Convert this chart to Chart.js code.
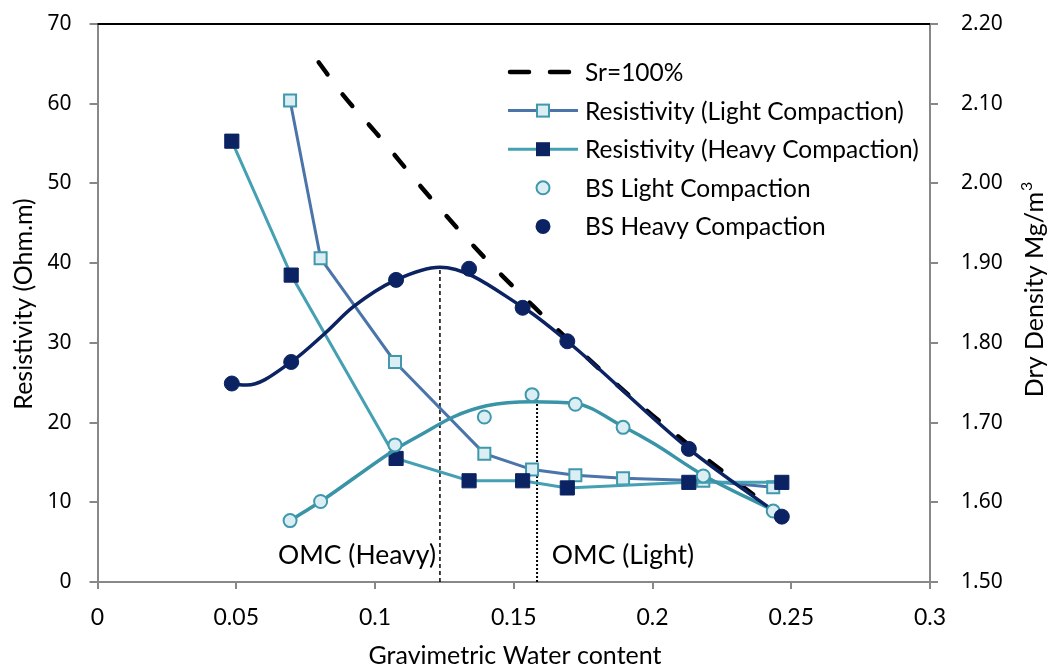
<!DOCTYPE html>
<html>
<head>
<meta charset="utf-8">
<script src="https://cdn.jsdelivr.net/npm/chart.js@4"></script>
<style>
  html, body { margin: 0; padding: 0; background: #fff; }
  #wrap { width: 1051px; height: 668px; }
</style>
</head>
<body>
<div id="wrap"><canvas id="c" width="1051" height="668"></canvas></div>
<script>
// ---- data ----
const xTickLabels = ['0', '0.05', '0.1', '0.15', '0.2', '0.25', '0.3'];
const leftTickLabels = ['0', '10', '20', '30', '40', '50', '60', '70'];
const rightTickLabels = ['1.50', '1.60', '1.70', '1.80', '1.90', '2.00', '2.10', '2.20'];

// Sr = 100% line (dry density)
const srX = [0.0797, 0.088, 0.10, 0.12, 0.14, 0.16, 0.18, 0.20, 0.22, 0.245];
const srY = [2.152, 2.113, 2.065, 1.982, 1.905, 1.836, 1.770, 1.709, 1.653, 1.587];

// resistivity (Ohm.m)
const resLightX = [0.0694, 0.0804, 0.1072, 0.1394, 0.1566, 0.1722, 0.1894, 0.2183, 0.2435];
const resLightY = [60.4, 40.6, 27.6, 16.1, 14.1, 13.4, 13.0, 12.7, 11.9];
const resHeavyX = [0.0484, 0.0698, 0.1076, 0.1339, 0.1532, 0.1693, 0.2131, 0.2466];
const resHeavyY = [55.3, 38.5, 15.5, 12.7, 12.7, 11.8, 12.5, 12.5];

// dry density points (Mg/m3)
const bsLightX = [0.0694, 0.0804, 0.1072, 0.1394, 0.1566, 0.1722, 0.1894, 0.2183, 0.2435];
const bsLightY = [1.577, 1.601, 1.672, 1.707, 1.735, 1.723, 1.694, 1.633, 1.589];
const bsHeavyX = [0.0484, 0.0698, 0.1076, 0.1339, 0.1532, 0.1693, 0.2131, 0.2466];
const bsHeavyY = [1.749, 1.776, 1.879, 1.893, 1.844, 1.802, 1.667, 1.582];

// fitted curves through the density points
const fitLightX = [0.0694, 0.0804, 0.1072, 0.1162, 0.1282, 0.1402, 0.1566, 0.1722, 0.1894, 0.2003, 0.2183, 0.2435];
const fitLightY = [1.577, 1.601, 1.666, 1.684, 1.707, 1.721, 1.726, 1.724, 1.695, 1.674, 1.634, 1.590];
const fitHeavyX = [0.0484, 0.0538, 0.0698, 0.0820, 0.0921, 0.1076, 0.1234, 0.1532, 0.1693, 0.2131, 0.2466];
const fitHeavyY = [1.749, 1.747, 1.776, 1.812, 1.845, 1.879, 1.895, 1.845, 1.802, 1.667, 1.582];

// optimum moisture content markers
const omcHeavy = { x: 0.1234, top: 39.5, label: 'OMC (Heavy)' };
const omcLight = { x: 0.1584, top: 23.1, label: 'OMC (Light)' };

const pts = (xs, ys) => xs.map((x, i) => ({ x: x, y: ys[i] }));

const NAVY = '#0b2362';
const TEAL = '#45a0b3';
const STEEL = '#4b75aa';
const PALE = '#dbeef3';
const PALE_EDGE = '#3f98ac';

const legendItems = [
  { text: 'Sr=100%', kind: 'dash' },
  { text: 'Resistivity (Light Compaction)', kind: 'line', line: STEEL, fill: PALE, edge: PALE_EDGE },
  { text: 'Resistivity (Heavy Compaction)', kind: 'line', line: TEAL, fill: NAVY, edge: NAVY },
  { text: 'BS Light Compaction', kind: 'dot', fill: PALE, edge: PALE_EDGE },
  { text: 'BS Heavy Compaction', kind: 'dot', fill: NAVY, edge: NAVY }
];

const FONT = 'Lato, "Open Sans", sans-serif';
const NUMFONT = '"Noto Sans", sans-serif';

const extras = {
  id: 'extras',
  beforeDatasetsDraw(chart) {
    const { ctx, chartArea: a } = chart;
    ctx.save();
    ctx.strokeStyle = '#000';
    ctx.lineWidth = 2;
    ctx.beginPath();
    ctx.moveTo(a.left, a.top);
    ctx.lineTo(a.right, a.top);
    ctx.stroke();
    ctx.restore();
  },
  afterDraw(chart) {
    const { ctx } = chart;
    ctx.save();
    ctx.fillStyle = '#000';
    ctx.textBaseline = 'middle';
    ctx.textAlign = 'center';

    // OMC labels
    ctx.font = '26.5px ' + FONT;
    ctx.fillText(omcHeavy.label, 357, 555);
    ctx.fillText(omcLight.label, 623, 555);

    // axis titles
    ctx.font = '25px ' + FONT;
    ctx.fillText('Gravimetric Water content', 515, 656);
    ctx.save();
    ctx.translate(24, 304);
    ctx.rotate(-Math.PI / 2);
    ctx.fillText('Resistivity (Ohm.m)', 0, 0);
    ctx.restore();
    ctx.save();
    ctx.translate(1035, 290);
    ctx.rotate(-Math.PI / 2);
    const main = 'Dry Density Mg/m';
    const w1 = ctx.measureText(main).width;
    ctx.font = '16px ' + FONT;
    const w2 = ctx.measureText('3').width;
    ctx.textAlign = 'left';
    ctx.font = '25px ' + FONT;
    ctx.fillText(main, -(w1 + w2) / 2, 0);
    ctx.font = '16px ' + FONT;
    ctx.fillText('3', -(w1 + w2) / 2 + w1 + 1, -8);
    ctx.restore();

    // legend
    const lx0 = 508, lx1 = 578, mx = 543, tx = 585;
    ctx.textAlign = 'left';
    legendItems.forEach((it, i) => {
      const y = 72 + i * 38.6;
      if (it.kind === 'dash') {
        ctx.strokeStyle = '#000';
        ctx.lineWidth = 4.5;
        ctx.lineCap = 'round';
        ctx.beginPath();
        ctx.moveTo(510, y); ctx.lineTo(529, y);
        ctx.moveTo(550, y); ctx.lineTo(569, y);
        ctx.stroke();
        ctx.lineCap = 'butt';
      }
      if (it.kind === 'line') {
        ctx.strokeStyle = it.line;
        ctx.lineWidth = 3;
        ctx.beginPath();
        ctx.moveTo(lx0, y); ctx.lineTo(lx1, y);
        ctx.stroke();
        ctx.fillStyle = it.fill;
        ctx.strokeStyle = it.edge;
        ctx.lineWidth = 2;
        ctx.fillRect(mx - 6, y - 6, 12, 12);
        ctx.strokeRect(mx - 6, y - 6, 12, 12);
      }
      if (it.kind === 'dot') {
        ctx.fillStyle = it.fill;
        ctx.strokeStyle = it.edge;
        ctx.lineWidth = 2;
        ctx.beginPath();
        ctx.arc(mx, y, 6.5, 0, Math.PI * 2);
        ctx.fill();
        ctx.stroke();
      }
      ctx.fillStyle = '#000';
      ctx.font = '24.5px ' + FONT;
      ctx.fillText(it.text, tx, y + 1);
    });
    ctx.restore();
  }
};

const fixY = w => s => { s.width = w; s.paddingTop = 0; s.paddingBottom = 0; };

new Chart(document.getElementById('c'), {
  type: 'scatter',
  data: {
    datasets: [
      {
        label: 'BS Heavy Compaction', data: pts(bsHeavyX, bsHeavyY), yAxisID: 'y2', order: 0,
        showLine: false, pointRadius: 7.5, pointBackgroundColor: NAVY, pointBorderColor: NAVY, pointBorderWidth: 1
      },
      {
        label: 'BS Light Compaction', data: pts(bsLightX, bsLightY), yAxisID: 'y2', order: 1,
        showLine: false, pointRadius: 6.5, pointBackgroundColor: PALE, pointBorderColor: PALE_EDGE, pointBorderWidth: 2
      },
      {
        label: 'heavy fit', data: pts(fitHeavyX, fitHeavyY), yAxisID: 'y2', order: 2,
        showLine: true, borderColor: NAVY, borderWidth: 3.5, pointRadius: 0, cubicInterpolationMode: 'monotone'
      },
      {
        label: 'light fit', data: pts(fitLightX, fitLightY), yAxisID: 'y2', order: 3,
        showLine: true, borderColor: '#3a94a8', borderWidth: 3.5, pointRadius: 0, cubicInterpolationMode: 'monotone'
      },
      {
        label: 'Resistivity (Heavy Compaction)', data: pts(resHeavyX, resHeavyY), yAxisID: 'y', order: 4,
        showLine: true, borderColor: TEAL, borderWidth: 3, tension: 0,
        pointStyle: 'rect', pointRadius: 10, pointBackgroundColor: NAVY, pointBorderColor: NAVY, pointBorderWidth: 1
      },
      {
        label: 'Resistivity (Light Compaction)', data: pts(resLightX, resLightY), yAxisID: 'y', order: 5,
        showLine: true, borderColor: STEEL, borderWidth: 3, tension: 0,
        pointStyle: 'rect', pointRadius: 8.5, pointBackgroundColor: PALE, pointBorderColor: PALE_EDGE, pointBorderWidth: 2
      },
      {
        label: 'Sr=100%', data: pts(srX, srY), yAxisID: 'y2', order: 6,
        showLine: true, borderColor: '#000', borderWidth: 4.5, borderDash: [15, 25], borderCapStyle: 'round',
        pointRadius: 0, cubicInterpolationMode: 'monotone'
      },
      {
        label: 'omc heavy', data: [{ x: omcHeavy.x, y: 0 }, { x: omcHeavy.x, y: omcHeavy.top }], yAxisID: 'y', order: 7,
        showLine: true, borderColor: '#000', borderWidth: 1.5, borderDash: [4, 3], pointRadius: 0
      },
      {
        label: 'omc light', data: [{ x: omcLight.x, y: 0 }, { x: omcLight.x, y: omcLight.top }], yAxisID: 'y', order: 7,
        showLine: true, borderColor: '#000', borderWidth: 2, borderDash: [2, 2], pointRadius: 0
      }
    ]
  },
  options: {
    responsive: false,
    animation: false,
    events: [],
    layout: { padding: { top: 24, left: 0, right: 0, bottom: 0 } },
    plugins: { legend: { display: false }, tooltip: { enabled: false } },
    scales: {
      x: {
        type: 'linear', min: 0, max: 0.3,
        afterFit: s => { s.height = 86; s.paddingLeft = 0; s.paddingRight = 0; },
        afterBuildTicks: s => { s.ticks = xTickLabels.map((t, i) => ({ value: i * 0.05 })); },
        ticks: { callback: (v, i) => xTickLabels[i], font: { family: FONT, size: 23 }, color: '#000', padding: 15, maxRotation: 0 },
        grid: { drawOnChartArea: false, drawTicks: true, tickLength: 7, color: '#888', lineWidth: 2 },
        border: { color: '#888', width: 2 }
      },
      y: {
        position: 'left', min: 0, max: 70,
        afterFit: fixY(97.5),
        afterBuildTicks: s => { s.ticks = leftTickLabels.map((t, i) => ({ value: i * 10 })); },
        ticks: { callback: (v, i) => leftTickLabels[i], font: { family: NUMFONT, size: 21 }, color: '#000', padding: 18 },
        grid: { drawOnChartArea: false, drawTicks: true, tickLength: 8, color: '#888', lineWidth: 2 },
        border: { color: '#888', width: 2 }
      },
      y2: {
        position: 'right', min: 1.5, max: 2.2,
        afterFit: fixY(121),
        afterBuildTicks: s => { s.ticks = rightTickLabels.map((t, i) => ({ value: 1.5 + i * 0.1 })); },
        ticks: { callback: (v, i) => rightTickLabels[i], font: { family: NUMFONT, size: 21 }, color: '#000', padding: 23 },
        grid: { drawOnChartArea: false, drawTicks: true, tickLength: 8, color: '#888', lineWidth: 2 },
        border: { color: '#888', width: 2 }
      }
    }
  },
  plugins: [extras]
});
</script>
</body>
</html>
